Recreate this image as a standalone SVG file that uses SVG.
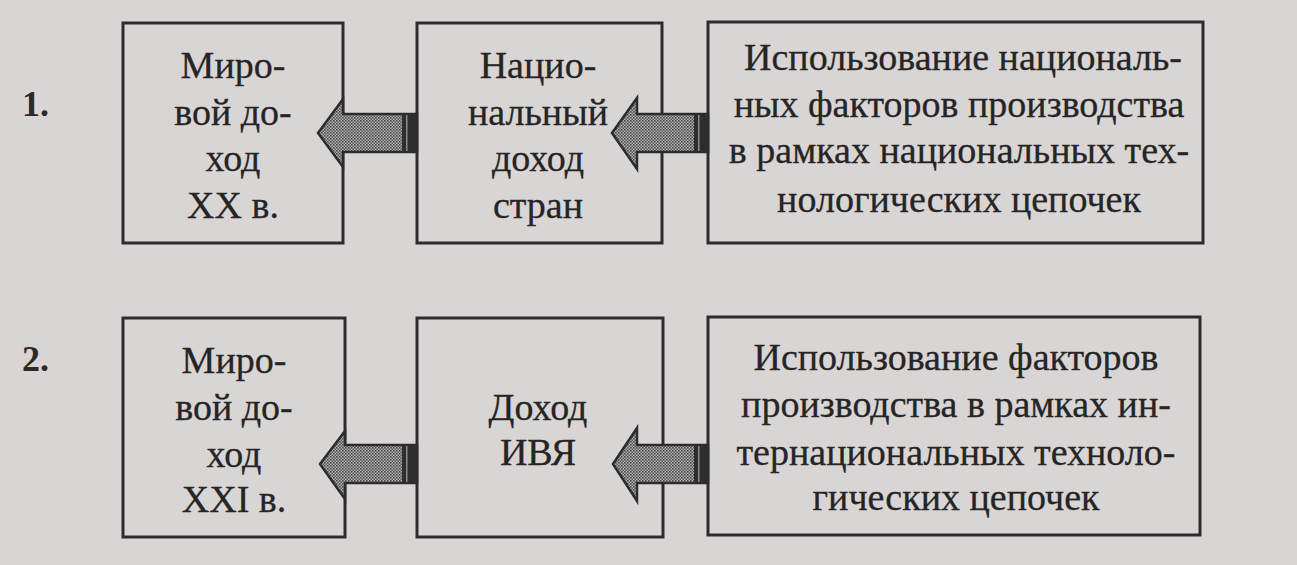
<svg xmlns="http://www.w3.org/2000/svg" width="1297" height="565" viewBox="0 0 1297 565">
  <defs>
    <pattern id="dots" width="3" height="3" patternUnits="userSpaceOnUse">
      <rect width="3" height="3" fill="#b4b2b2"/>
      <rect width="1.6" height="1.6" fill="#4a4a4a"/>
      <rect x="1.5" y="1.5" width="1.5" height="1.5" fill="#5a5a5a"/>
    </pattern>
  </defs>
  <style>
    .box { fill: #d9d5d5; stroke: #2c2c2c; stroke-width: 3; }
    .t { font-family: "Liberation Serif", "Times New Roman", serif; font-size: 38px; fill: #252525; text-anchor: middle; stroke: #252525; stroke-width: 0.3; }
    .num { font-family: "Liberation Serif", "Times New Roman", serif; font-size: 36px; font-weight: bold; fill: #2a2a2a; }
    .arr { fill: url(#dots); stroke: #2c2c2c; stroke-width: 2.5; stroke-linejoin: miter; }
    .band { fill: #2e2e2e; }
    .stripe { fill: #8a8a8a; }
  </style>
  <rect width="1297" height="565" fill="#d9d5d5"/>

  <text class="num" x="22" y="116">1.</text>
  <text class="num" x="22" y="371">2.</text>

  <g id="r1-world">
    <rect class="box" x="123" y="23" width="220" height="220"/>
    <text class="t" x="233" y="78">Миро-</text>
    <text class="t" x="233" y="125">вой до-</text>
    <text class="t" x="233" y="171">ход</text>
    <text class="t" x="233" y="218">XX в.</text>
  </g>
  <g id="r1-national">
    <rect class="box" x="417" y="23" width="245" height="220"/>
    <text class="t" x="538" y="78">Нацио-</text>
    <text class="t" x="538" y="125">нальный</text>
    <text class="t" x="538" y="171">доход</text>
    <text class="t" x="538" y="218">стран</text>
  </g>
  <g id="r1-factors">
    <rect class="box" x="708" y="22" width="495" height="221"/>
    <text class="t" x="963" y="70">Использование националь-</text>
    <text class="t" x="959" y="117">ных факторов производства</text>
    <text class="t" x="959" y="163">в рамках национальных тех-</text>
    <text class="t" x="959" y="212">нологических цепочек</text>
  </g>

  <g id="r2-world">
    <rect class="box" x="123" y="318" width="222" height="219"/>
    <text class="t" x="234" y="373">Миро-</text>
    <text class="t" x="234" y="420">вой до-</text>
    <text class="t" x="234" y="467">ход</text>
    <text class="t" x="234" y="512">XXI в.</text>
  </g>
  <g id="r2-ivya">
    <rect class="box" x="417" y="318" width="246" height="219"/>
    <text class="t" x="538" y="420">Доход</text>
    <text class="t" x="538" y="465">ИВЯ</text>
  </g>
  <g id="r2-factors">
    <rect class="box" x="708" y="317" width="492" height="218"/>
    <text class="t" x="956" y="370">Использование факторов</text>
    <text class="t" x="956" y="417">производства в рамках ин-</text>
    <text class="t" x="956" y="465">тернациональных техноло-</text>
    <text class="t" x="956" y="510">гических цепочек</text>
  </g>

  <g id="connectors">
    <polygon class="arr" points="318,133 343,99 343,114 417,114 417,152 343,152 343,167"/>
    <rect class="band" x="402" y="115" width="15" height="36"/>
    <rect class="stripe" x="406" y="115" width="1.5" height="36"/>
    <polygon class="arr" points="612,133 637,98 637,114 708,114 708,152 637,152 637,169"/>
    <rect class="band" x="694" y="115" width="14" height="36"/>
    <rect class="stripe" x="698" y="115" width="1.5" height="36"/>
    <polygon class="arr" points="320,464 345,431 345,445 417,445 417,483 345,483 345,499"/>
    <rect class="band" x="402" y="446" width="15" height="36"/>
    <rect class="stripe" x="406" y="446" width="1.5" height="36"/>
    <polygon class="arr" points="613,464 637,428 637,445 708,445 708,483 637,483 637,501"/>
    <rect class="band" x="694" y="446" width="14" height="36"/>
    <rect class="stripe" x="698" y="446" width="1.5" height="36"/>
  </g>
</svg>
